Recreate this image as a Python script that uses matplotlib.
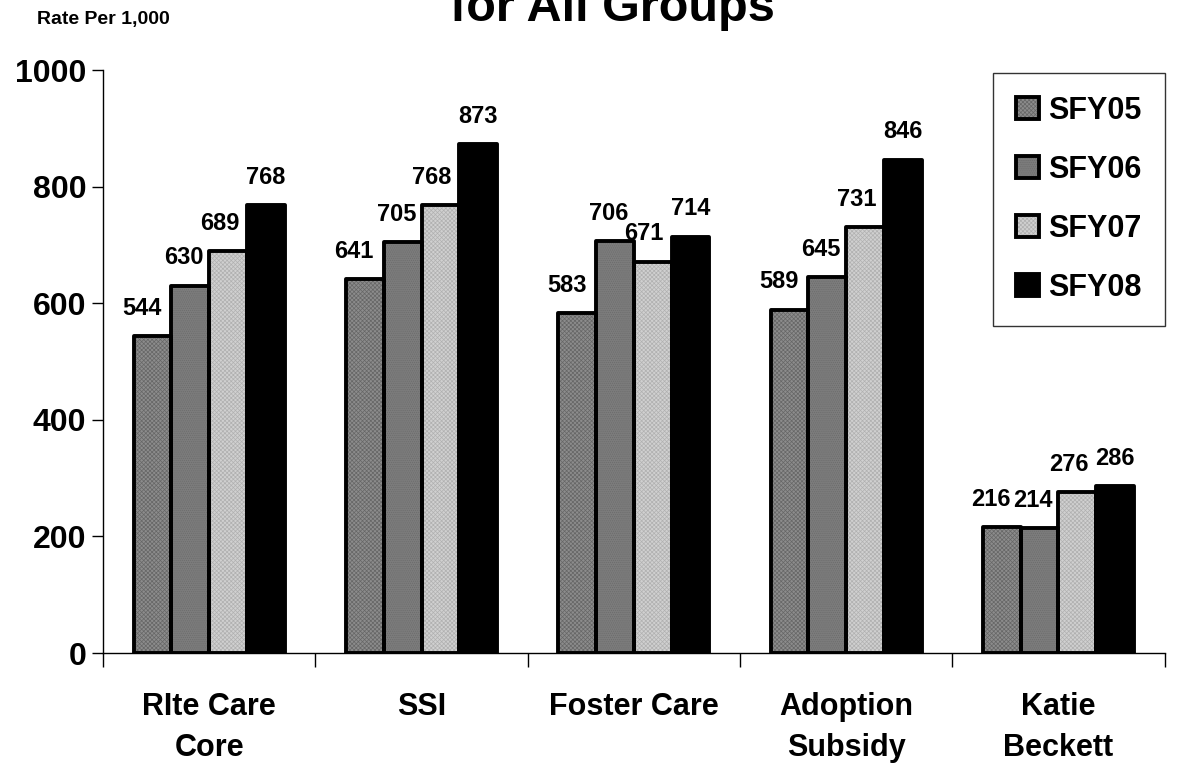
import numpy as np
import matplotlib
matplotlib.use("Agg")
import matplotlib.pyplot as plt
from matplotlib.patches import Patch
from matplotlib.legend_handler import HandlerTuple

plt.rcParams['font.family'] = ['Liberation Sans', 'DejaVu Sans']
plt.rcParams['font.weight'] = 'bold'
plt.rcParams['hatch.linewidth'] = 0.5

# Datos
grupos = ['RIte Care\nCore', 'SSI', 'Foster Care', 'Adoption\nSubsidy', 'Katie\nBeckett']
series = ['SFY05', 'SFY06', 'SFY07', 'SFY08']
sfy05 = [544, 641, 583, 589, 216]
sfy06 = [630, 705, 706, 645, 214]
sfy07 = [689, 768, 671, 731, 276]
sfy08 = [768, 873, 714, 846, 286]
valores = [sfy05, sfy06, sfy07, sfy08]

# Estilo de cada serie: relleno, color de trama, trama, desplazamiento de etiqueta
relleno = ['#8c8c8c', '#7c7c7c', '#d0d0d0', '#000000']
trama_color = ['#666666', '#6c6c6c', '#b0b0b0', '#000000']
tramas = ['xxxxxxxx', '........', 'xxxxxxxx', None]
desp = [-0.05, -0.03, -0.04, 0.0]

fig = plt.figure(figsize=(11.8, 7.66), dpi=100)
ax = fig.add_axes([0.0873, 0.1475, 0.8997, 0.7611])

x = np.arange(len(grupos))
ancho = 0.178
manijas = []
for i, vals in enumerate(valores):
    pos = x + (i - 1.5) * ancho
    # capa de relleno con trama
    ax.bar(pos, vals, ancho, color=relleno[i], hatch=tramas[i],
           edgecolor=trama_color[i], linewidth=0, zorder=2)
    # contorno negro
    ax.bar(pos, vals, ancho, fill=False, edgecolor='black', linewidth=2.8,
           joinstyle='round', zorder=3)
    for p, v in zip(pos, vals):
        ax.text(p + desp[i], v + 28, str(v), ha='center', va='bottom',
                fontsize=17, fontweight='bold')
    manijas.append((Patch(facecolor=relleno[i], hatch=tramas[i],
                          edgecolor=trama_color[i], linewidth=0),
                    Patch(fill=False, edgecolor='black', linewidth=2.8)))

ax.set_ylim(0, 1000)
ax.set_xlim(-0.5, len(grupos) - 0.5)
ax.set_yticks(range(0, 1001, 200))
ax.tick_params(axis='y', labelsize=23, length=8, width=1, pad=4)
for lbl in ax.get_yticklabels():
    lbl.set_fontweight('bold')

# marcas en los límites de grupo y etiquetas centradas
ax.set_xticks(np.arange(len(grupos) + 1) - 0.5)
ax.set_xticklabels([])
ax.tick_params(axis='x', length=10, width=1)
ax.set_xticks(x, minor=True)
ax.set_xticklabels(grupos, minor=True, fontsize=22, fontweight='bold',
                   linespacing=1.5)
ax.tick_params(axis='x', which='minor', length=0, pad=28)

for s in ['top', 'right']:
    ax.spines[s].set_visible(False)
ax.spines['left'].set_linewidth(1)
ax.spines['bottom'].set_linewidth(1)

leg = ax.legend(manijas, series, handler_map={tuple: HandlerTuple(ndivide=1)},
                loc='upper right', bbox_to_anchor=(1.0, 0.995), fontsize=22,
                frameon=True, fancybox=False, edgecolor='black',
                labelspacing=0.95, handlelength=0.75, handleheight=0.75,
                handletextpad=0.3, borderpad=0.75, borderaxespad=0)
leg.get_frame().set_linewidth(1)
for t in leg.get_texts():
    t.set_fontweight('bold')

fig.text(0.031, 0.974, 'Rate Per 1,000', fontsize=14, fontweight='bold',
         ha='left', va='center')
fig.text(0.519, 0.9726, 'for All Groups', fontsize=35, fontweight='bold',
         ha='center', va='baseline')

fig.savefig('out.png', dpi=100)
